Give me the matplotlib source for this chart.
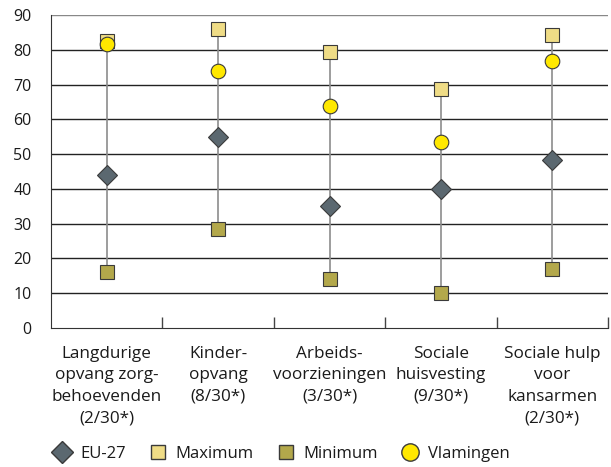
import matplotlib
matplotlib.use("Agg")
import matplotlib.pyplot as plt
from matplotlib.lines import Line2D

categories = ["Langdurige\nopvang zorg-\nbehoevenden\n(2/30*)",
              "Kinder-\nopvang\n(8/30*)",
              "Arbeids-\nvoorzieningen\n(3/30*)",
              "Sociale\nhuisvesting\n(9/30*)",
              "Sociale hulp\nvoor\nkansarmen\n(2/30*)"]
eu27 = [44, 55, 35, 40, 48.3]
maximum = [82.5, 85.9, 79.3, 68.8, 84.2]
minimum = [16.2, 28.6, 14.1, 10.0, 16.9]
vlamingen = [81.6, 73.9, 63.8, 53.5, 76.7]
yticks = [0, 10, 20, 30, 40, 50, 60, 70, 80, 90]

plt.rcParams['font.family'] = ['Open Sans', 'DejaVu Sans']
plt.rcParams['text.color'] = '#1a1a1a'

fig = plt.figure(figsize=(6.11, 4.67), dpi=100)
ax = fig.add_axes([51/611, 1-328/467, (608-51)/611, (328-15)/467])

x = list(range(len(categories)))
edge = '#3a3a3a'
c_eu, c_max, c_min, c_vl = '#5b6870', '#efdc86', '#b3a84b', '#ffe800'
ax.vlines(x, minimum, maximum, color='#8c8c8c', lw=1.2, zorder=2)
ax.plot(x, maximum, 's', ms=10, mfc=c_max, mec=edge, mew=0.8, ls='none', zorder=3)
ax.plot(x, minimum, 's', ms=10, mfc=c_min, mec=edge, mew=0.8, ls='none', zorder=3)
ax.plot(x, eu27, 'D', ms=10.5, mfc=c_eu, mec=edge, mew=0.8, ls='none', zorder=4)
ax.plot(x, vlamingen, 'o', ms=10.5, mfc=c_vl, mec=edge, mew=0.8, ls='none', zorder=5)

ax.set_ylim(0, 90)
ax.set_xlim(-0.5, len(categories) - 0.5)
ax.set_yticks(yticks)
for yv in yticks[1:]:
    ax.axhline(yv, color='#222222' if yv < 90 else '#888888', lw=1.0, zorder=1)

ax.set_xticks(x)
ax.set_xticklabels(categories, fontsize=12.3, linespacing=1.45, color='#1a1a1a')
ax.tick_params(axis='x', length=0, pad=13)
ax.set_xticks([i + 0.5 for i in x], minor=True)
ax.tick_params(axis='x', which='minor', direction='in', length=8, width=1, color='#444444')
ax.tick_params(axis='y', length=0, pad=14, labelsize=11.5, labelcolor='#1a1a1a')

for s in ['top', 'right']:
    ax.spines[s].set_visible(False)
ax.spines['left'].set_color('#333333')
ax.spines['bottom'].set_color('#333333')

handles = [
    Line2D([], [], marker='D', ms=11, mfc=c_eu, mec=edge, ls='none', label='EU-27'),
    Line2D([], [], marker='s', ms=10.5, mfc=c_max, mec=edge, ls='none', label='Maximum'),
    Line2D([], [], marker='s', ms=10.5, mfc=c_min, mec=edge, ls='none', label='Minimum'),
    Line2D([], [], marker='o', ms=12.5, mfc=c_vl, mec=edge, ls='none', label='Vlamingen'),
]
fig.legend(handles=handles, loc='center left', bbox_to_anchor=(53.7/611, 1-454/467), ncol=4,
           frameon=False, fontsize=12, handletextpad=0.58, columnspacing=1.42, handlelength=1.0,
           borderaxespad=0, borderpad=0)

fig.savefig('out.png', dpi=100)
